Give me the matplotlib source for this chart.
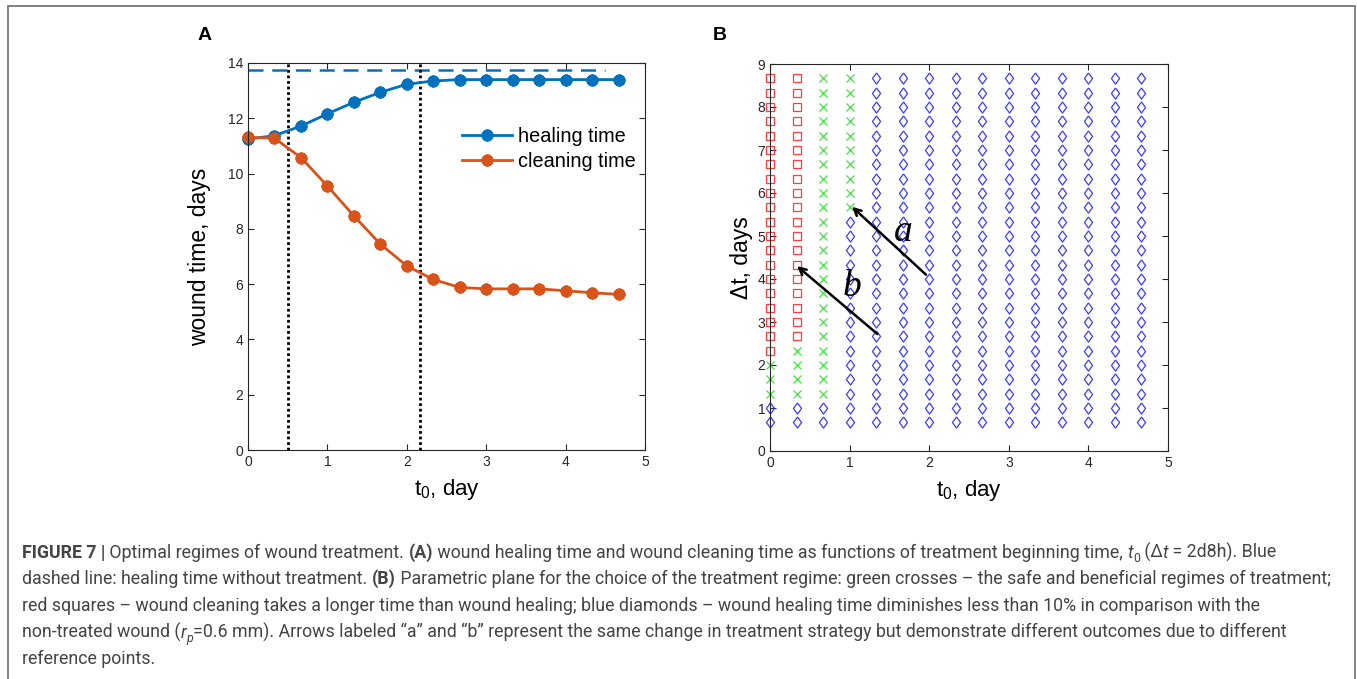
import matplotlib
matplotlib.use("Agg")
import matplotlib.pyplot as plt
from matplotlib.patches import Rectangle

plt.rcParams['font.family'] = ['Liberation Sans', 'DejaVu Sans']
plt.rcParams['mathtext.fontset'] = 'custom'
plt.rcParams['mathtext.rm'] = 'Liberation Sans'
plt.rcParams['mathtext.it'] = 'Liberation Sans:italic'

# panel A data
t0 = [0, 0.333, 0.667, 1.0, 1.333, 1.667, 2.0, 2.333, 2.667, 3.0, 3.333, 3.667, 4.0, 4.333, 4.667]
healing = [11.25, 11.37, 11.72, 12.16, 12.58, 12.94, 13.23, 13.35, 13.4, 13.4, 13.4, 13.4, 13.4, 13.4, 13.4]
cleaning = [11.31, 11.28, 10.58, 9.55, 8.47, 7.45, 6.66, 6.17, 5.88, 5.83, 5.83, 5.83, 5.76, 5.69, 5.63]
no_treatment = 13.75
vlines_t0 = [0.5, 2.167]

# panel B data
dt_vals = [0.667, 1.0, 1.333, 1.667, 2.0, 2.333, 2.667, 3.0, 3.333, 3.667, 4.0, 4.333, 4.667,
           5.0, 5.333, 5.667, 6.0, 6.333, 6.667, 7.0, 7.333, 7.667, 8.0, 8.333, 8.667]
# regime per t0 column (bottom to top): d = diamond, x = cross, s = square
regimes = [
    "dd" + "xxx" + "s" * 20,
    "dd" + "xxxx" + "s" * 19,
    "dd" + "x" * 23,
    "d" * 15 + "x" * 10,
] + ["d" * 25] * 11
arrow_a = [(1.96, 4.1), (1.03, 5.68)]
arrow_b = [(1.35, 2.72), (0.34, 4.3)]

blue = '#0072BD'
orange = '#D95319'
axcol = '#262626'

fig = plt.figure(figsize=(13.57, 6.79), dpi=100)
W, H = 1357, 679


def ax_rect(x0, x1, y0, y1):
    return [x0 / W, 1 - y1 / H, (x1 - x0) / W, (y1 - y0) / H]


def style_axes(ax):
    ax.tick_params(direction='in', top=True, right=True, labelsize=10, colors=axcol,
                   length=4, width=0.8)
    for s in ax.spines.values():
        s.set_color(axcol)
        s.set_linewidth(0.8)


# ---- panel A
axA = fig.add_axes(ax_rect(248, 645, 63, 450))
axA.plot([0, 4.5], [no_treatment, no_treatment], color=blue, lw=1.8, dashes=(6, 3.5))
for v in vlines_t0:
    axA.axvline(v, color='black', lw=2, ls=(0, (1, 1)))
axA.plot(t0, healing, color=blue, lw=2, marker=(8, 2, 0), ms=8.5, mew=2.6,
         label='healing time', clip_on=False)
axA.plot(t0, cleaning, color=orange, lw=2, marker=(8, 2, 0), ms=8.5, mew=2.6,
         label='cleaning time', clip_on=False)
axA.set_xlim(0, 5)
axA.set_ylim(0, 14)
axA.set_xticks(range(6))
axA.set_yticks(range(0, 15, 2))
style_axes(axA)
axA.set_xlabel('t$_0$, day', fontsize=16, labelpad=6)
axA.set_ylabel('wound time, days', fontsize=16.5, labelpad=12)
axA.legend(loc='upper left', bbox_to_anchor=(0.52, 0.855), frameon=False, fontsize=14.3,
           handlelength=2.5, handletextpad=0.3, labelspacing=0.3, borderaxespad=0)

# ---- panel B
diamond = [(0, 1), (0.73, 0), (0, -1), (-0.73, 0), (0, 1)]
styles = {
    's': dict(marker='s', color='#ff3b3b', ms=5.5),
    'x': dict(marker='x', color='#45e045', ms=5.5),
    'd': dict(marker=diamond, color='#3b3bff', ms=8),
}
axB = fig.add_axes(ax_rect(770, 1168, 64, 451))
for code, st in styles.items():
    xs, ys = [], []
    for t, col in zip(t0, regimes):
        for dt, c in zip(dt_vals, col):
            if c == code:
                xs.append(t)
                ys.append(dt)
    axB.plot(xs, ys, ls='none', marker=st['marker'], ms=st['ms'], mfc='none',
             mec=st['color'], mew=0.9, clip_on=False)
for (x0, y0), (x1, y1) in [arrow_a, arrow_b]:
    axB.annotate('', xy=(x1, y1), xytext=(x0, y0),
                 arrowprops=dict(arrowstyle='->,head_length=0.5,head_width=0.25',
                                 color='black', lw=1.8, shrinkA=0, shrinkB=0))
axB.text(1.68, 5.1, 'a', fontsize=27, family='Liberation Serif', style='italic',
         ha='center', va='center')
axB.text(1.03, 3.82, 'b', fontsize=27, family='Liberation Serif', style='italic',
         ha='center', va='center')
axB.set_xlim(0, 5)
axB.set_ylim(0, 9)
axB.set_xticks(range(6))
axB.set_yticks(range(10))
style_axes(axB)
axB.set_xlabel('t$_0$, day', fontsize=16, labelpad=6)
axB.set_ylabel('\u0394t, days', fontsize=16.5, labelpad=3)

fig.text(205 / W, 1 - 36 / H, 'A', fontsize=14, fontweight='bold', ha='center', va='center')
fig.text(720 / W, 1 - 36 / H, 'B', fontsize=14, fontweight='bold', ha='center', va='center')

# frame around the figure
fig.add_artist(Rectangle((8 / W, -0.1), (1355 - 8) / W, 1.1 - 6 / H, transform=fig.transFigure,
                         fill=False, ec='#777777', lw=1.3))

# ---- caption, drawn piece by piece
cap_font = ['Roboto', 'DejaVu Sans']
cap_size = 12.75
cap_col = '#444444'
lines = [
    [("FIGURE 7 |", 'b'), (" Optimal regimes of wound treatment. ", 'n'), ("(A)", 'b'),
     (" wound healing time and wound cleaning time as functions of treatment beginning time, ", 'n'),
     ("t", 'i'), ("0", 'sub'), (" (\u0394", 'n'), ("t", 'i'), (" = 2d8h). Blue", 'n')],
    [("dashed line: healing time without treatment. ", 'n'), ("(B)", 'b'),
     (" Parametric plane for the choice of the treatment regime: green crosses \u2013 the safe and beneficial regimes of treatment;", 'n')],
    [("red squares \u2013 wound cleaning takes a longer time than wound healing; blue diamonds \u2013 wound healing time diminishes less than 10% in comparison with the", 'n')],
    [("non-treated wound (", 'n'), ("r", 'i'), ("p", 'isub'),
     ("=0.6 mm). Arrows labeled \u201ca\u201d and \u201cb\u201d represent the same change in treatment strategy but demonstrate different outcomes due to different", 'n')],
    [("reference points.", 'n')],
]
baselines = [558, 584, 611, 638, 664]
renderer = fig.canvas.get_renderer()
for pieces, yb in zip(lines, baselines):
    x = 22
    for txt, kind in pieces:
        kw = dict(fontsize=cap_size, family=cap_font, color=cap_col, va='baseline',
                  ha='left')
        y = yb
        if kind == 'b':
            kw['fontweight'] = 'bold'
        if kind in ('i', 'isub'):
            kw['style'] = 'italic'
        if kind in ('sub', 'isub'):
            kw['fontsize'] = cap_size * 0.7
            y = yb + 4
        t = fig.text(x / W, 1 - y / H, txt, **kw)
        x += t.get_window_extent(renderer).width

fig.savefig('out.png', dpi=100)
